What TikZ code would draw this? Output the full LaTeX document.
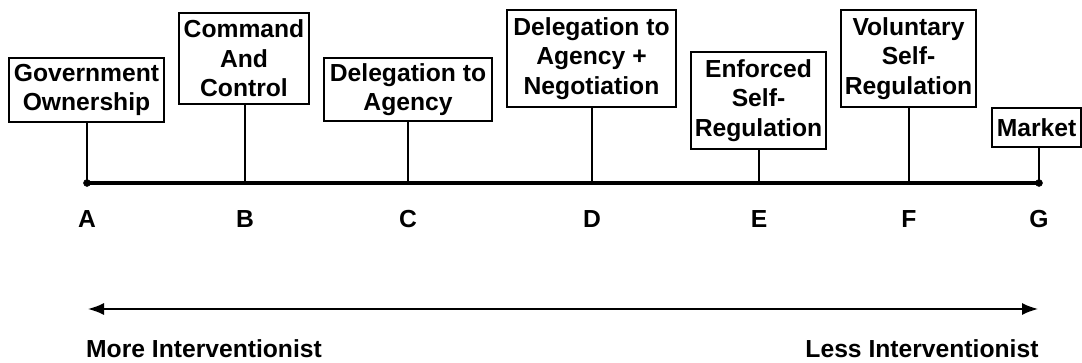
\documentclass[tikz,border=0pt]{standalone}
\usepackage{fontspec}
\setmainfont{Liberation Sans}
\usetikzlibrary{arrows.meta}

\begin{document}
\begin{tikzpicture}[> = {Latex[length = 12pt, width = 9pt]}, x = 0.75pt, y = -0.75pt,
	box/.style = {draw, line width = 1.4pt, align = center, inner sep = 0pt,
		font = \bfseries\fontsize{18.5}{22}\selectfont},
	lbl/.style = {font = \bfseries\fontsize{18.5}{22}\selectfont},
	tick/.style = {line width = 1.4pt}]

	% Definitions

	\def\px{0.75pt}		% One pixel of the reference
	\def\Y{183}			% Height of the axis

	\useasboundingbox (0, 0) rectangle (1082, 363);

	% Boxes

	\node [box, minimum width = 155*\px, minimum height = 64*\px] (gov) at (86.5, 90) {Government\\Ownership};
	\node [box, minimum width = 130*\px, minimum height = 91*\px] (cmd) at (244, 58.5) {Command\\And\\Control};
	\node [box, minimum width = 168*\px, minimum height = 63*\px] (del) at (408, 89.5) {Delegation to\\Agency};
	\node [box, minimum width = 169*\px, minimum height = 97*\px] (neg) at (591.5, 58.5) {Delegation to\\Agency +\\Negotiation};
	\node [box, minimum width = 135*\px, minimum height = 97*\px] (enf) at (758.5, 100.5) {Enforced\\Self-\\Regulation};
	\node [box, minimum width = 135*\px, minimum height = 97*\px] (vol) at (908.5, 58.5) {Voluntary\\Self-\\Regulation};
	\node [box, minimum width = 89*\px, minimum height = 39*\px] (mkt) at (1036.5, 127.5) {Market};

	% Axis with ticks and letters

	\foreach \X/\L/\B in {87/A/gov, 245/B/cmd, 408/C/del, 592/D/neg, 759/E/enf, 909/F/vol, 1039/G/mkt} {
		\coordinate (t\L) at (\X, \Y);
		\node [lbl] (\L) at (\X, 219) {\L};
		\draw [tick] (\B.south -| t\L) -- (t\L);
	}
	\draw [line width = 2.3pt] (tA) -- (tG);
	\filldraw (tA) circle (2.6pt) (tG) circle (2.6pt);

	% Direction arrow

	\node [lbl] (more) at (204, 349) {More Interventionist};
	\node [lbl] (less) at (922, 349) {Less Interventionist};
	\coordinate (l) at (88, 309);
	\coordinate (r) at (1038, 309);
	\draw [<->, line width = 1.2pt] (l) -- (r);

\end{tikzpicture}
\end{document}
